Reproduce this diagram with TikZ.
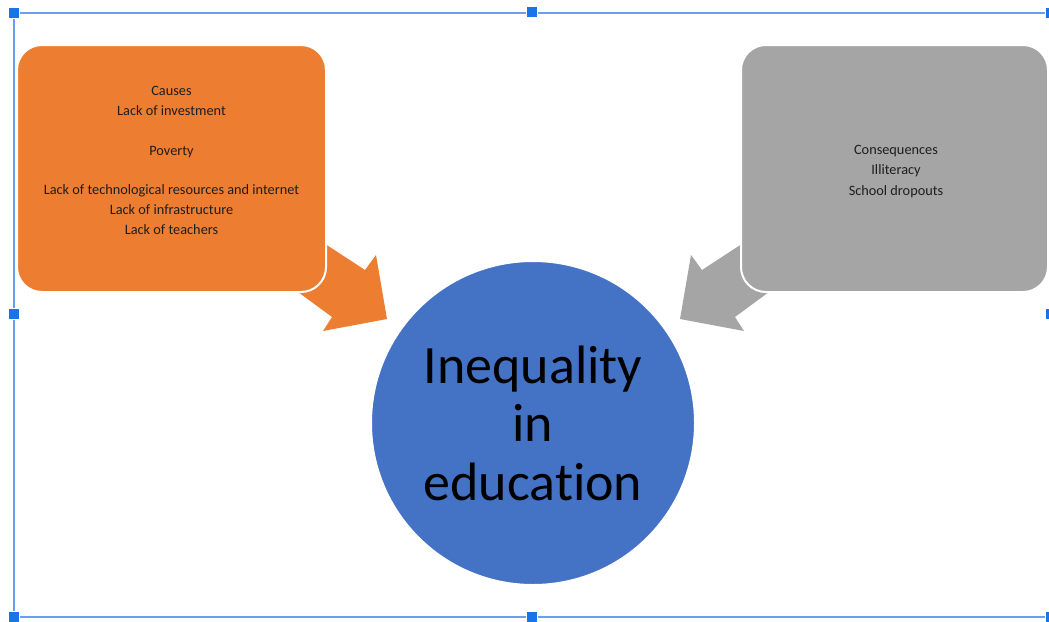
\documentclass[tikz,border=0pt]{standalone}
\usepackage{fontspec}
\setmainfont[Ligatures=NoCommon]{Carlito}
\definecolor{causeorange}{HTML}{ED7D31}
\definecolor{conseqgray}{HTML}{A5A5A5}
\definecolor{centreblue}{HTML}{4472C4}
\definecolor{frameblue}{HTML}{6A9EF0}
\definecolor{handleblue}{HTML}{1A73E8}
\definecolor{bodytext}{HTML}{1E1E1E}
\begin{document}
\begin{tikzpicture}[x=1pt,y=-1pt,
  selframe/.style={draw=frameblue,line width=1.6pt},
  handle/.style={rectangle,fill=handleblue,draw=white,line width=0.6pt,inner sep=0pt,minimum size=11pt},
  roundbox/.style={rectangle,rounded corners=25pt,draw=white,line width=2pt,inner sep=0pt},
  boxtext/.style={align=center,text=bodytext,font=\fontsize{14.3}{19.9}\selectfont,inner sep=0pt},
  blockarrow/.style={draw=none}
]
\useasboundingbox (0,0) rectangle (1049,621);

% selection frame with its sizing handles
\draw[selframe] (14,13) rectangle (1051,617);
\foreach \hx/\hy [count=\i] in {14/13,532/12,1051/13,14/314,1051/314,14/617,532/617,1051/617}
  \node[handle] (h\i) at (\hx,\hy) {};

% block arrows, tails tucked under the boxes
\fill[causeorange,blockarrow] (290,221) -- (365,270) -- (376,255) -- (387,319)
  -- (323,331) -- (332,317) -- (260,264) -- cycle;
\fill[conseqgray,blockarrow] (777,221) -- (702,270) -- (691,255) -- (680,319)
  -- (744,331) -- (735,317) -- (807,264) -- cycle;

% causes box
\node[roundbox,fill=causeorange,minimum width=309pt,minimum height=247pt] (causes) at (171.5,168.5) {};
\node[boxtext] (causestext) at ([yshift=8pt]causes.center) {Causes\\Lack of investment\\[19.9pt]Poverty\\[19.9pt]Lack of technological resources and internet\\Lack of infrastructure\\Lack of teachers};

% consequences box
\node[roundbox,fill=conseqgray,minimum width=307pt,minimum height=247pt] (conseq) at (894.5,168.5) {};
\node[boxtext,font=\fontsize{14.3}{20.4}\selectfont] (conseqtext) at ([xshift=1.5pt,yshift=-3pt]conseq.center) {Consequences\\Illiteracy\\School dropouts};

% central circle
\node[circle,fill=centreblue,draw=white,line width=2pt,minimum size=324pt,inner sep=0pt] (centre) at (533,423) {};
\node[align=center,text=black,font=\fontsize{54}{58.5}\selectfont,inner sep=0pt] (centretext) at (centre.center) {Inequality\\in\\education};
\end{tikzpicture}
\end{document}
